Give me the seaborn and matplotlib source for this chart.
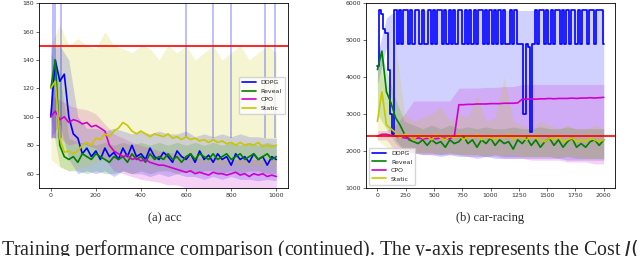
import numpy as np
import matplotlib
matplotlib.use("Agg")
import matplotlib.pyplot as plt
import seaborn as sns

sns.set_style("ticks")
plt.rcParams['font.family'] = ['DejaVu Sans']

names = ['DDPG', 'Reveal', 'CPO', 'Static']
colors = {'DDPG': '#0000ff', 'Reveal': '#008000', 'CPO': '#d000d0', 'Static': '#c8c800'}

# ---------------- (a) acc ----------------
acc_x = np.arange(0, 1001, 20)
acc_band_x = np.arange(0, 1001, 40)

acc_ddpg = [100, 140, 125, 130, 100, 88, 85, 74, 78, 72, 76, 70, 78, 72, 75, 70, 78, 72, 80, 72,
            74, 70, 78, 72, 70, 75, 72, 68, 76, 72, 70, 74, 68, 76, 70, 73, 68, 74, 70, 72,
            66, 74, 70, 72, 68, 74, 70, 72, 66, 72, 70]
acc_reveal = [120, 140, 80, 72, 70, 72, 68, 74, 72, 70, 74, 72, 70, 68, 72, 70, 72, 68, 74, 70,
              72, 68, 74, 70, 72, 70, 74, 70, 72, 68, 72, 74, 70, 74, 72, 70, 74, 70, 72, 74,
              70, 72, 74, 70, 72, 74, 70, 72, 74, 70, 72]
acc_cpo = [100, 104, 98, 100, 96, 98, 97, 95, 96, 93, 94, 92, 90, 80, 76, 74, 72, 73, 70, 71,
           69, 70, 68, 67, 66, 66, 65, 64, 63, 62, 61, 62, 60, 61, 60, 59, 61, 60, 60, 59,
           60, 61, 59, 60, 58, 60, 59, 60, 58, 59, 58]
acc_static = [120, 125, 85, 75, 76, 74, 76, 80, 82, 80, 85, 84, 88, 86, 90, 92, 96, 94, 90, 88,
              90, 88, 86, 88, 87, 86, 88, 85, 86, 84, 86, 84, 85, 83, 84, 82, 84, 82, 83, 81,
              82, 80, 82, 80, 81, 80, 82, 79, 80, 79, 80]

acc_lo = {
    'DDPG': [85, 95, 70, 60, 62, 60, 62, 58, 62, 60, 60, 58, 60, 58, 60, 58, 58, 56, 58, 56, 58, 56, 56, 55, 56, 55],
    'Reveal': [100, 65, 62, 62, 60, 62, 60, 60, 62, 60, 62, 60, 62, 62, 60, 62, 60, 62, 62, 60, 62, 60, 62, 62, 60, 60],
    'CPO': [85, 85, 80, 82, 80, 78, 70, 62, 60, 58, 56, 55, 54, 52, 52, 50, 50, 50, 50, 50, 50, 50, 50, 50, 50, 50],
    'Static': [70, 65, 62, 64, 65, 68, 70, 72, 72, 70, 72, 70, 70, 70, 68, 70, 68, 68, 68, 66, 68, 66, 66, 66, 66, 66],
}
acc_hi = {
    'DDPG': [150, 150, 140, 100, 92, 92, 90, 92, 90, 88, 90, 88, 90, 88, 88, 90, 86, 88, 86, 88, 86, 88, 86, 86, 85, 85],
    'Reveal': [145, 130, 85, 82, 82, 80, 82, 80, 82, 80, 82, 80, 82, 80, 82, 80, 82, 80, 82, 80, 82, 80, 82, 80, 82, 80],
    'CPO': [115, 112, 108, 106, 105, 102, 95, 88, 85, 82, 80, 78, 76, 75, 74, 72, 72, 70, 72, 70, 70, 70, 70, 70, 70, 70],
    'Static': [150, 165, 150, 155, 150, 148, 160, 150, 148, 145, 150, 148, 140, 150, 145, 150, 140, 145, 150, 140, 145, 150, 140, 145, 150, 145],
}
acc_spike_x = [8, 18, 45, 600, 720, 800, 950, 995]
acc_limit = 150

# ---------------- (b) car-racing ----------------
car_x = np.arange(0, 2001, 40)
car_ddpg_x = np.arange(0, 2001, 20)
car_band_x = np.arange(0, 2001, 80)

car_ddpg = [4300, 5800, 5700, 5300, 5200, 4200, 3000, 2450, 5800, 4900, 5800, 4900, 5800, 5800, 4900, 5800, 4900, 5800, 5800, 4900,
            5800, 4900, 4900, 5800, 4900, 5800, 4900, 5800, 5800, 4900, 5800, 4900, 5800, 4900, 5800, 4900, 5800, 5800, 4900, 5800,
            4900, 5800, 4900, 5800, 4900, 5800, 5800, 4900, 5800, 4900, 5800, 4900, 5800, 4900, 5800, 4900, 5800, 4900, 4900, 5800,
            4900, 5800, 4900, 4900, 4900, 3000, 4900, 4800, 2500, 4900, 5800, 4900, 5800, 5800, 4900, 5800, 4900, 5800, 4900, 5800,
            5800, 4900, 5800, 4900, 5800, 4900, 5800, 5800, 4900, 5800, 4900, 5800, 5800, 4900, 5800, 5800, 4900, 5800, 5800, 5800, 4900]
car_reveal = [4200, 4700, 3600, 3300, 2900, 2700, 2450, 2300, 2250, 2200, 2300, 2150, 2300, 2200, 2250, 2100, 2300, 2200, 2250, 2400,
              2200, 2300, 2100, 2300, 2200, 2350, 2150, 2300, 2200, 2250, 2050, 2300, 2200, 2350, 2150, 2300, 2100, 2250, 2350, 2150,
              2300, 2100, 2250, 2350, 2100, 2200, 2100, 2250, 2300, 2150, 2300]
car_cpo = [2400, 2450, 2450, 2420, 2400, 2380, 2350, 2340, 2330, 2350, 2330, 2340, 2350, 2330, 2350, 2340, 2330, 2400, 3250, 3250,
           3260, 3260, 3270, 3270, 3270, 3280, 3280, 3280, 3290, 3290, 3290, 3300, 3400, 3400, 3410, 3400, 3410, 3410, 3420, 3410,
           3420, 3420, 3420, 3430, 3420, 3430, 3430, 3440, 3430, 3440, 3450]
car_static = [2800, 3600, 2700, 2600, 2500, 2350, 2450, 2400, 2300, 2450, 2350, 2400, 2300, 2450, 2350, 2300, 2400, 2350, 2450, 2300,
              2400, 2350, 2450, 2300, 2400, 2350, 2300, 2400, 2350, 2450, 2300, 2400, 2350, 2300, 2400, 2350, 2300, 2250, 2350, 2300,
              2400, 2250, 2300, 2350, 2250, 2300, 2250, 2350, 2300, 2250, 2300]

car_lo = {
    'DDPG': [3800, 4800, 2300, 2000, 1950, 1900, 1900, 1850, 1900, 1850, 1850, 1800, 1850, 1800, 1800, 1800, 1800, 1800, 1800, 1800, 1800, 1750, 1750, 1750, 1750, 1750],
    'Reveal': [3000, 2600, 2200, 2000, 1950, 1950, 1950, 1900, 1950, 1900, 1900, 1900, 1850, 1900, 1850, 1850, 1850, 1850, 1850, 1850, 1800, 1850, 1800, 1800, 1800, 1800],
    'CPO': [2300, 2300, 2000, 1950, 1950, 1900, 1900, 1900, 1900, 1900, 1850, 1850, 1850, 1850, 1800, 1800, 1800, 1750, 1750, 1750, 1750, 1700, 1700, 1700, 1650, 1650],
    'Static': [2300, 2100, 2000, 2000, 1950, 1950, 1950, 1950, 1950, 1900, 1900, 1900, 1900, 1900, 1900, 1900, 1850, 1850, 1850, 1850, 1850, 1850, 1850, 1800, 1800, 1800],
}
car_hi = {
    'DDPG': [4600, 5600, 5800, 5800, 5800, 5800, 5800, 5800, 5800, 5800, 5800, 5800, 5800, 5800, 5800, 5800, 5800, 5800, 5800, 5800, 5800, 5800, 5800, 5800, 5800, 5800],
    'Reveal': [5000, 4200, 3400, 2800, 2700, 2600, 2700, 2600, 2700, 2600, 2650, 2600, 2650, 2600, 2600, 2650, 2600, 2600, 2650, 2600, 2600, 2650, 2600, 2600, 2600, 2600],
    'CPO': [2550, 2550, 2700, 3000, 3350, 3350, 3350, 3350, 3350, 3700, 3700, 3700, 3720, 3720, 3740, 3740, 3800, 3800, 3800, 3800, 3800, 3800, 3800, 3800, 3800, 3800],
    'Static': [4600, 3500, 4900, 3000, 2800, 2900, 3000, 3200, 2800, 3000, 2900, 3500, 2800, 2900, 4000, 2800, 2700, 2600, 2800, 2700, 2600, 2700, 2600, 2600, 2700, 2600],
}
car_limit = 2400

fig = plt.figure(figsize=(6.4, 2.56), dpi=100)
ax1 = fig.add_axes([0.061, 0.266, 0.389, 0.722])
ax2 = fig.add_axes([0.572, 0.266, 0.389, 0.722])

acc_means = {'DDPG': acc_ddpg, 'Reveal': acc_reveal, 'CPO': acc_cpo, 'Static': acc_static}
car_means = {'DDPG': car_ddpg, 'Reveal': car_reveal, 'CPO': car_cpo, 'Static': car_static}

# bands first so lines sit on top
for n in names:
    ax1.fill_between(acc_band_x, acc_lo[n], acc_hi[n], color=colors[n], alpha=0.18, lw=0)
    ax2.fill_between(car_band_x, car_lo[n], car_hi[n], color=colors[n], alpha=0.18, lw=0)
ax1.vlines(acc_spike_x, 85, 190, color=colors['DDPG'], alpha=0.3, lw=1.2)

for n in names:
    sns.lineplot(x=acc_x, y=acc_means[n], ax=ax1, color=colors[n], lw=1.2, label=n)
    cx = car_ddpg_x if n == 'DDPG' else car_x
    ds = 'steps-mid' if n == 'DDPG' else 'default'
    sns.lineplot(x=cx, y=car_means[n], ax=ax2, color=colors[n], lw=1.2, label=n, drawstyle=ds)

ax1.axhline(acc_limit, color='red', lw=1.2)
ax2.axhline(car_limit, color='red', lw=1.2)

ax1.set_xlim(-52, 1052)
ax1.set_ylim(50, 180)
ax1.set_xticks([0, 200, 400, 600, 800, 1000])
ax1.set_yticks([60, 80, 100, 120, 140, 160, 180])
ax2.set_xlim(-100, 2100)
ax2.set_ylim(1000, 6000)
ax2.set_xticks([0, 250, 500, 750, 1000, 1250, 1500, 1750, 2000])
ax2.set_yticks([1000, 2000, 3000, 4000, 5000, 6000])

for ax in (ax1, ax2):
    ax.tick_params(labelsize=4.5, length=2, width=0.5, pad=1.5, colors='#333333')
    for s in ax.spines.values():
        s.set_linewidth(0.6)
        s.set_color('black')

ax1.legend(loc='center right', fontsize=4.5, frameon=True, handlelength=2.2,
           borderpad=0.5, labelspacing=0.5, bbox_to_anchor=(1.0, 0.5))
ax2.legend(loc='lower left', fontsize=4.5, frameon=True, handlelength=2.2,
           borderpad=0.5, labelspacing=0.5)

serif = ['Liberation Serif', 'DejaVu Serif']
fig.text(0.258, 0.148, '(a) acc', ha='center', va='center', fontsize=9, family=serif)
fig.text(0.766, 0.148, '(b) car-racing', ha='center', va='center', fontsize=9, family=serif)
fig.text(0.002, 0.004, 'Training performance comparison (continued). The y-axis represents the Cost $J($',
         ha='left', va='baseline', fontsize=14.3, family=serif)

fig.savefig('out.png', dpi=100)
